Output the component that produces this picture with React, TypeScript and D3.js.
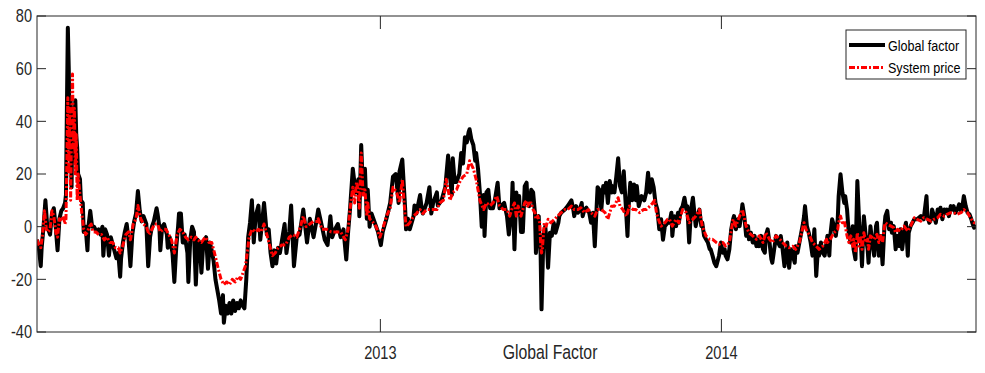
import React from "react";
import * as d3 from "d3";

// ---- data: [day offset, value] ----
const globalFactor: [number, number][] = [
  [0,-5],[2,-8],[4,-15],[5,-8],[7,0],[9,10],[11,0],[14,-3],[16,5],[18,7],[20,0],[22,-9],[24,3],[26,6],[28,7],[30,9],[31,12],[32,45],[33,75.5],[34,60],[35,30],[36,48],[37,15],[38,45],[39,25],[41,48],[42,35],[43,30],[44,20],[46,18],[47,10],[49,9],[50,-2],[52,0],[54,-9],[55,0],[57,6],[59,0],[61,0],[64,-2],[66,-1],[68,-3],[70,0],[71,-11],[73,-1],[75,-3],[77,-11],[79,-4],[82,-8],[85,-12],[87,-10],[89,-19],[90,-12],[92,-6],[94,-2],[96,1],[98,-5],[100,-15],[102,-3],[104,2],[106,5],[108,13.5],[110,6],[112,2],[114,4],[117,1],[119,-15],[121,-4],[123,0],[125,2],[128,7],[129,5],[131,0],[132,-9],[134,0],[136,1],[139,-3],[140,-8],[142,-4],[145,-10],[147,-21],[149,-8],[151,0],[152,5],[154,5],[156,-6],[158,-3],[161,-10],[162,-21],[164,-5],[166,0],[168,-2],[170,-22],
  [172,-5],[174,-6],[176,-17.5],[178,-6],[181,-4],[183,-16],[185,-6],[187,-9],[189,-13],[191,-20],[193,-24],[195,-28],[197,-33],[199,-26],[200,-36.5],[202,-30],[204,-33],[206,-29],[208,-33],[210,-28],[212,-32],[214,-29],[216,-31],[218,-28],[220,-30],[222,-31],[224,-20],[226,-4],[228,1.5],[230,10],[232,-6],[234,4],[237,8],[239,-5],[243,9],[246,-3],[248,-1],[250,-10],[252,-15],[254,-9],[256,-14],[258,-8],[260,-10],[265,1],[267,-10],[270,-2],[272,8],[275,-15],[278,-4],[281,-3],[285,6.5],[289,-6],[292,3],[296,-4],[299,2],[301,6.5],[305,0],[308,-5],[311,-7],[314,4],[316,-4],[319,-1],[322,1],[325,-4],[328,-1],[331,-12.5],[333,-2],[335,6.5],
  [338,22],[341,13],[344,18],[345,4],[347,31],[349,13],[351,22],[353,3],[354,14],[356,0],[358,5],[360,3],[363,0],[365,-2],[368,-7],[370,-2],[374,3],[378,9],[381,19],[384,20],[387,9],[388,21],[391,25.5],[394,7],[395,-1],[397,3],[399,-1],[403,4],[404,8],[406,5],[410,12],[412,6],[413,5],[417,9],[420,15],[422,5],[424,9],[428,13],[429,8],[433,10],[437,15],[440,27],[442,19],[444,12],[445,26],[447,17],[449,17],[452,20],[454,28],[456,24],[458,34],[460,32],[462,36],[463,37],[465,33],[467,31],[469,25],[470,28],[472,22],[474,13],[476,0],[478,12],[479,-3.5],[481,13],[483,14],[485,7],[488,7],[490,10],[493,16.7],[495,7],[497,8],[500,9],[503,4],[505,-3],
  [508,6.5],[509,16.7],[511,-8.6],[513,13],[515,6.5],[516,11.6],[518,-2],[520,-2],[522,15.4],[524,16.7],[525,9],[527,7.8],[529,14],[531,13],[533,5],[534,-10],[535,2.8],[537,4],[538,-6],[539,-10],[540,-31.4],[542,-3.5],[544,0.2],[546,-8.6],[547,-15.6],[549,-2.3],[551,-3.5],[553,1.5],[555,-2.3],[558,1.5],[559,4],[561,5.3],[565,6.5],[568,7.8],[572,10],[574,6.5],[575,4],[577,7.8],[579,5.3],[581,6.5],[583,9],[584,4],[586,6.5],[588,7.2],[591,5.3],[593,1.5],[595,5.3],[597,-7.4],[599,7.8],[600,15],[602,14],[604,6.5],[606,15.4],[608,13],[609,16.7],[611,9],[613,17.3],[615,13],[616,15.4],[618,13],[620,19],[622,26],[624,15.4],[626,13],[628,21],[630,9],[632,-3.5],[633,6.5],[635,16.7],[637,10],[639,16],[641,10],[642,15.4],[644,7.8],[647,11.6],[650,10],[652,13],[654,20.5],[656,13],[658,18],[660,15],[662,9],[664,6.5],[666,-1],[668,2.8],[670,-5],[672,0.2],[675,1.5],
  [677,1.5],[679,5.3],[680,-3.5],[682,4],[684,0.2],[686,5.3],[687,1.5],[689,6.5],[691,7.8],[693,11],[695,6.5],[696,7.8],[698,-6],[700,6.5],[702,11],[705,0.2],[707,4],[709,6.5],[711,0.2],[712,1.5],[714,-3.5],[716,-4.8],[718,-6],[720,-8.6],[721,-8.6],[723,-11],[725,-13.7],[727,-15],[729,-12.4],[730,-11],[732,-6],[734,-9.9],[736,-8.6],[737,-11],[739,-12.4],[741,-8.6],[743,-1],[745,2.8],[746,4],[748,-1],[750,2.8],[752,0.2],[754,5.3],[755,8.5],[757,4],[759,-3.5],[761,0.2],[762,-4.8],[764,-2.3],[766,-6],[768,-3.5],[770,-7.4],[771,-4.8],[773,-7.4],[775,-3.5],[777,-8.6],[779,-9.9],[780,-3.5],[782,-1],[784,-6],[786,-12.4],[787,-13.7],[789,-8.6],[791,-3.5],[793,-6],[795,-7.4],[796,-3.5],[798,-8.6],[800,-15],[802,-9.9],[803,-6],[805,-15.6],[807,-8.6],[809,-11],[811,-13.7],[812,-7.4],[814,-9.9],[816,-6],[818,-2.3],[820,1.5],[821,4],[822,7.8],[824,0.2],[826,-2.3],[828,-6],[830,-11],[832,-1],[834,-18.7],[836,-7.4],[837,-11],[839,-6],[841,-9.9],[843,-11],[845,-6],
  [846,-3.5],[848,-11],[849,-3.5],[851,2.8],[853,0.2],[855,-3.5],[857,2.8],[858,11.6],[860,19.9],[862,13],[864,9],[865,11.6],[867,6.5],[869,-3.5],[871,-6],[873,0.2],[874,-8.6],[876,-12.4],[878,17.3],[880,1.5],[882,-7.4],[883,-15],[885,4],[887,-3.5],[889,-8.6],[890,-13.7],[892,0.2],[894,-6],[896,-11],[898,0.2],[899,1.5],[901,-11],[903,-3.5],[905,-14.3],[907,0.2],[908,4],[910,6],[912,-1],[914,1.5],[915,-2.3],[917,0.2],[919,-8.6],[921,-3.5],[923,-7.4],[924,-1],[926,-8.6],[928,-2.3],[930,1.5],[932,-11],[933,-2.3],[935,0.2],[937,1.5],[939,2.8],[942,2.8],[946,4],[949,2.8],[952,11.6],[953,4],[955,1.5],[957,2.8],[958,6.5],[960,4],[962,1.5],[964,6.5],[965,5.3],[967,7.2],[969,2.8],[971,6.5],[973,5.3],[974,6.5],[976,4],[978,7.8],[980,6.5],[981,7.8],[983,5.3],[985,6.5],[987,8.5],[989,6],[990,6.5],[992,11.6],[994,7.8],[996,5.3],[998,4.7],[1000,2.8],[1001,1.5],[1003,-0.4],[1004,0.8],
];

const systemPrice: [number, number][] = [
  [0,-5],[2,-7],[4,-8],[6,-3],[8,6],[10,-1],[12,-2],[14,-1],[16,6],[18,4],[20,-2],[22,-4],[24,3],[26,2],[28,4],[30,1],[31,3],[33,49],[34,20],[35,45],[36,10],[37,40],[38,58],[39,30],[40,45],[41,20],[42,35],[43,10],[44,20],[46,12],[48,5],[50,-1],[52,-3],[54,-2],[56,0],[58,1],[60,-2],[63,-2],[66,-3],[69,-3],[72,-5],[75,-4],[78,-6],[81,-6],[84,-8],[87,-8],[89,-10],[92,-7],[95,-3],[98,-2],[100,-5],[103,1],[106,3],[108,8],[111,3],[114,1],[117,0],[120,-3],[123,-1],[126,1],[129,1],[132,-2],[135,-1],[138,-1],[141,-3],[144,-5],[147,-10],[150,-3],[153,-1],[156,-2],[159,-4],[162,-5],[165,-4],[168,-5],[170,-4],
  [172,-5],[176,-6],[180,-4],[184,-6],[187,-6],[190,-10],[192,-13],[194,-16],[197,-20],[200,-22],[203,-21],[206,-22],[209,-20],[212,-21],[215,-19],[218,-20],[221,-17],[223,-15],[225,-10],[227,-4],[230,-1],[234,-2],[237,-1],[240,-2],[243,1],[246,-3],[249,-7],[252,-11],[255,-10],[258,-8],[262,-7],[266,-7],[270,-4],[274,-3],[278,-4],[282,0],[285,4],[288,0],[292,1],[296,2],[300,2],[301,3],[305,-1],[310,-1],[315,-2],[320,-2],[325,-2],[330,-5],[333,-1],[335,6.5],
  [338,15],[340,9],[342,17],[344,13],[345,7],[347,28],[349,12],[351,14],[353,4],[354,9],[356,3],[360,1.5],[363,0],[367,-4],[370,-1],[374,4],[378,7],[381,15],[385,13],[388,9],[391,18],[394,4],[395,0],[399,1.5],[403,4],[406,5],[410,6.5],[413,5],[417,6.5],[420,6.5],[424,6.5],[428,6.5],[431,9],[435,10],[438,18],[442,10],[445,13],[449,14],[452,16.7],[456,19],[460,20],[463,25],[467,22],[470,18],[474,10],[478,6.5],[481,9],[485,8],[488,9],[492,11.6],[495,8],[499,6.5],[503,6.5],[506,4],
  [508,6.5],[511,9],[513,4],[515,7.8],[518,4],[522,9],[524,10],[525,7.8],[527,9],[529,9],[531,6.5],[533,5.3],[534,2.8],[536,4],[538,1.5],[539,-6],[540,-10],[541,-8],[542,-3],[543,1.5],[545,0.2],[547,2.8],[550,1.5],[554,2.8],[557,4],[561,5.3],[565,6.5],[568,6.5],[572,7.8],[575,6.5],[579,6.5],[582,7.2],[586,5.3],[590,6.5],[593,5.3],[597,4],[600,6.5],[604,6.5],[608,5.3],[611,2.8],[615,7.8],[618,7.8],[622,11],[624,7.8],[627,6.5],[631,4],[634,7.8],[638,6.5],[641,6.5],[645,5.3],[649,6.5],[652,6.5],[656,7.8],[659,9],[661,10],[663,5.3],[665,2.8],[668,0.2],[672,1.5],[675,2.8],
  [677,2.8],[680,0.2],[684,2.8],[687,1.5],[691,6.5],[695,5.3],[698,1.5],[702,2.8],[705,4],[709,6.5],[712,0.2],[716,-3.5],[720,-4.8],[723,-4.8],[727,-6],[730,-6.7],[734,-6],[737,-7.4],[741,-6],[745,2.8],[748,0.2],[752,4],[755,6.5],[759,0.2],[762,-2.3],[766,-3.5],[770,-4.8],[773,-3.5],[777,-6],[780,-2.3],[784,-4.8],[787,-6],[791,-3.5],[795,-4.8],[798,-6],[802,-7.4],[805,-8],[809,-7.4],[812,-8.6],[816,-6],[820,0.2],[821,1.5],[823,-1],[827,-3.5],[830,-6],[834,-7.4],[837,-8.6],[841,-7.4],[845,-4.8],
  [846,-6],[849,-4.8],[853,-2.3],[857,-1],[858,1.5],[860,4],[862,1.5],[864,2.1],[865,0.2],[867,-3.5],[869,-6],[871,-3.5],[873,-7.4],[874,-4.8],[876,-9.9],[878,-2.3],[880,-7.4],[882,-3.5],[883,-8.6],[885,-2.3],[887,-6],[889,-4.8],[890,-8.6],[892,-3.5],[896,-4.8],[898,-3.5],[899,-2.9],[901,-6],[903,-3.5],[905,-6],[907,0.2],[908,1.5],[910,0.9],[914,0.2],[917,-0.4],[919,-2.3],[921,-1],[924,-1.7],[928,0.2],[932,-1.7],[935,0.2],[939,3.4],[942,2.8],[946,2.1],[949,3.4],[953,2.8],[957,2.1],[960,2.8],[964,3.4],[967,4.7],[971,4],[974,4.7],[978,5.3],[981,5.3],[985,4.7],[989,5.3],[992,6.5],[996,5.3],[998,4],[1000,2.8],[1003,1.5],[1004,1.5],
];

const yTicks = [-40, -20, 0, 20, 40, 60, 80];
const xTickYears = [2013, 2014];
const seriesNames = ["Global factor", "System price"];
const xLabel = "Global Factor";

// ---- layout ----
const W = 985, H = 373;
const L = 37, R = 976, T = 16, B = 332;
const DAY = 86400000;
const BASE = Date.UTC(2011, 11, 30, 12);
const END = BASE + 1005 * DAY;
const INK = "#262626";
const SX = 0.81;
const FONT = "'Liberation Sans', Arial, Helvetica, sans-serif";

export default function App() {
  const x = d3.scaleUtc().domain([new Date(BASE), new Date(END)]).range([L, R]);
  const y = d3.scaleLinear().domain([-40, 80]).range([B, T]);
  const line = d3
    .line<[number, number]>()
    .x((d) => x(new Date(BASE + d[0] * DAY)))
    .y((d) => y(d[1]));

  const xTicks = xTickYears.map((yr) => ({ yr, px: x(new Date(Date.UTC(yr, 0, 1))) }));

  return (
    <svg
      width={W}
      height={H}
      style={{ position: "absolute", left: 0, top: 0, background: "#fff" }}
      fontFamily={FONT}
    >
      <defs>
        <clipPath id="plot">
          <rect x={L} y={T} width={R - L} height={B - T} />
        </clipPath>
      </defs>
      <rect x={0} y={0} width={W} height={H} fill="#fff" />

      <g clipPath="url(#plot)">
        <path d={line(globalFactor) || ""} fill="none" stroke="#000" strokeWidth={4} strokeLinejoin="round" />
        <path
          d={line(systemPrice) || ""}
          fill="none"
          stroke="#ff0000"
          strokeWidth={3}
          strokeDasharray="6 2 2 2"
          strokeLinejoin="round"
        />
      </g>

      {/* axes box */}
      <rect x={L} y={T} width={R - L} height={B - T} fill="none" stroke={INK} strokeWidth={1} />

      {/* y ticks */}
      {yTicks.map((v) => (
        <g key={v}>
          <line x1={L} x2={L + 9} y1={y(v)} y2={y(v)} stroke={INK} />
          <line x1={R - 9} x2={R} y1={y(v)} y2={y(v)} stroke={INK} />
          <g transform={`translate(${L - 5},${y(v)}) scale(${SX},1)`}>
            <text textAnchor="end" dy="0.36em" fontSize={18} fill={INK}>
              {v}
            </text>
          </g>
        </g>
      ))}

      {/* x ticks */}
      {xTicks.map((t) => (
        <g key={t.yr}>
          <line x1={t.px} x2={t.px} y1={B} y2={B - 13} stroke={INK} />
          <line x1={t.px} x2={t.px} y1={T} y2={T + 13} stroke={INK} />
          <g transform={`translate(${t.px},359) scale(${SX},1)`}>
            <text textAnchor="middle" fontSize={18} fill={INK}>
              {t.yr}
            </text>
          </g>
        </g>
      ))}

      {/* x label */}
      <g transform={`translate(550,359) scale(${SX},1)`}>
        <text textAnchor="middle" fontSize={19.5} fill={INK}>
          {xLabel}
        </text>
      </g>

      {/* legend */}
      <g>
        <rect x={846} y={30} width={120} height={49} fill="#fff" stroke={INK} strokeWidth={1} />
        <line x1={849} x2={885} y1={45} y2={45} stroke="#000" strokeWidth={4} />
        <line x1={849} x2={885} y1={67.5} y2={67.5} stroke="#ff0000" strokeWidth={3} strokeDasharray="6 2 2 2" />
        {seriesNames.map((n, i) => (
          <g key={n} transform={`translate(888,${i === 0 ? 45 : 67.5}) scale(${SX},1)`}>
            <text dy="0.36em" fontSize={15.5} fill="#000">
              {n}
            </text>
          </g>
        ))}
      </g>
    </svg>
  );
}
